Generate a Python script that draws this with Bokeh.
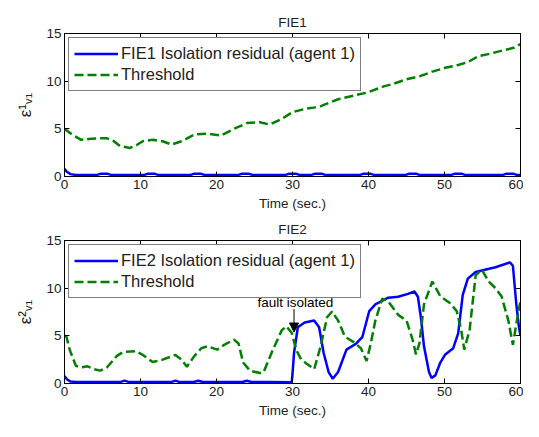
from bokeh.plotting import figure
from bokeh.layouts import column
from bokeh.models import LinearAxis, FixedTicker, Range1d, Label, Arrow, NormalHead
from bokeh.embed import file_html
from bokeh.resources import INLINE

FONT = "Liberation Sans"
TXT = "#222222"

x_ticks = [0, 10, 20, 30, 40, 50, 60]
y_ticks = [0, 5, 10, 15]

# ---- FIE1 ----
th1_t = [0, 1, 2.2, 3.5, 4.7, 5.6, 6.5, 7.3, 8.6, 9.5, 10.3, 11.6, 12.9, 14.1, 15.4, 17.1, 18.8,
         20.6, 22.3, 24, 25.7, 27, 28.5, 30, 31.7, 33, 33.8, 36, 38.1, 39.8, 42, 43.2, 45, 46.7,
         48.4, 50.1, 51.8, 53.1, 54.4, 56.1, 57.8, 59.1, 60]
th1_y = [5.0, 4.4, 3.85, 3.95, 4.0, 4.0, 3.7, 3.2, 3.0, 3.3, 3.7, 3.85, 3.7, 3.35, 3.7, 4.4, 4.5,
         4.3, 5.0, 5.6, 5.7, 5.45, 6.0, 6.75, 7.1, 7.25, 7.4, 8.1, 8.5, 8.8, 9.45, 9.7, 10.2, 10.5,
         11.0, 11.4, 11.7, 12.0, 12.6, 12.9, 13.25, 13.5, 13.9]

res1_t = [0, 0.3, 0.8, 1.5, 4.2, 4.7, 5.7, 6.2, 10.4, 10.9, 11.9, 12.4, 16.5, 17.0, 18.0, 18.5,
          22.8, 23.3, 24.3, 24.8, 29.0, 29.5, 30.5, 31.0, 32.4, 32.9, 33.9, 34.4, 38.8, 39.3,
          40.3, 40.8, 44.8, 45.3, 46.3, 46.8, 50.8, 51.3, 52.3, 52.8, 57.6, 58.1, 59.1, 59.6, 60]
res1_y = [0.8, 0.5, 0.25, 0.15, 0.15, 0.28, 0.28, 0.15, 0.15, 0.28, 0.28, 0.15, 0.15, 0.28, 0.28, 0.15,
          0.15, 0.28, 0.28, 0.15, 0.15, 0.28, 0.28, 0.15, 0.15, 0.28, 0.28, 0.15, 0.15, 0.28,
          0.28, 0.15, 0.15, 0.28, 0.28, 0.15, 0.15, 0.28, 0.28, 0.15, 0.15, 0.28, 0.28, 0.15, 0.15]

# ---- FIE2 ----
th2_t = [0, 0.26, 0.7, 1.5, 2.2, 3.0, 3.9, 4.7, 5.6, 6.9, 7.7, 9.4, 10.3, 11.6, 12.9, 14.6, 15.4,
         16.1, 17.1, 18.0, 18.8, 20.1, 21.0, 22.3, 22.9, 23.5, 24.4, 25.7, 26.2, 27.4, 28.6, 29.2,
         29.9, 30.5, 31.15, 32.0, 32.85, 33.7, 34.55, 35.2, 36.0, 36.9, 37.95, 39.0, 39.75, 40.3,
         40.9, 41.8, 42.6, 43.9, 45.0, 45.8, 46.25, 46.7, 47.3, 48.4, 49.45, 50.7, 51.6, 52.2,
         52.6, 53.3, 54.1, 54.9, 55.8, 56.7, 57.5, 58.4, 59.0, 59.45, 59.9, 60]
th2_y = [5.0, 4.9, 3.5, 1.85, 1.7, 1.8, 1.5, 1.35, 1.7, 2.9, 3.3, 3.4, 3.0, 2.25, 2.5, 3.0, 2.5,
         1.75, 2.9, 3.7, 3.9, 3.55, 4.05, 4.6, 4.2, 2.2, 1.35, 1.1, 1.2, 3.5, 5.6, 6.0,
         5.3, 3.5, 2.5, 2.0, 1.5, 3.9, 6.95, 7.55, 6.6, 4.9, 4.4, 3.7, 2.37, 4.2,
         6.6, 8.9, 8.6, 7.2, 6.6, 4.6, 3.05, 4.2, 8.3, 10.7, 9.15, 8.45, 7.6, 5.6,
         3.55, 5.6, 11.35, 11.95, 10.7, 10.0, 9.15, 6.6, 4.05, 6.25, 8.3, 8.5]

res2_t = [0, 0.3, 0.8, 1.5, 7.3, 7.9, 8.5, 14.0, 14.6, 15.2, 17.0, 17.6, 18.2, 23.4, 24.0, 24.6,
          27, 29.9, 30.0, 30.2, 30.7, 31.6, 32.85, 33.5, 34.1, 34.75, 35.3, 36.0, 37.1, 38.4,
          39.2, 40.1, 40.9, 42.6, 43.9, 45.2, 46.05, 46.5, 46.9, 47.3, 47.96, 48.3, 48.8, 49.45,
          50.1, 51.15, 51.8, 52.4, 53.07, 54.1, 56.7, 58.6, 59.0, 59.45, 59.8, 60]
res2_y = [0.8, 0.45, 0.2, 0.15, 0.15, 0.3, 0.15, 0.15, 0.3, 0.15, 0.15, 0.28, 0.15, 0.15, 0.28, 0.15,
          0.15, 0.12, 1.0, 3.2, 5.9, 6.4, 6.6, 5.9, 3.2, 1.2, 0.5, 1.2, 3.55, 4.2,
          4.9, 7.6, 8.3, 9.0, 9.1, 9.4, 9.65, 9.1, 6.9, 3.9, 1.2, 0.57, 0.85, 2.2,
          3.05, 3.7, 5.25, 9.3, 11.0, 11.7, 12.2, 12.7, 12.35, 8.3, 5.9, 5.0]

fault_x = 30.2
fault_text = "fault isolated"


def style_axis(ax, ticks, show_labels=True):
    ax.ticker = FixedTicker(ticks=ticks)
    ax.major_tick_in = 5
    ax.major_tick_out = 0
    ax.minor_tick_in = 0
    ax.minor_tick_out = 0
    ax.axis_line_color = "black"
    ax.major_tick_line_color = "black"
    ax.major_label_text_font = FONT
    ax.major_label_text_color = TXT
    ax.major_label_text_font_size = "13.5px"
    ax.major_label_standoff = 3
    ax.axis_label_text_font = FONT
    ax.axis_label_text_font_style = "normal"
    ax.axis_label_text_color = TXT
    ax.axis_label_text_font_size = "13.5px"
    ax.axis_label_standoff = 4
    if not show_labels:
        ax.major_label_overrides = {t: "" for t in ticks}
        ax.major_label_text_color = None
        ax.major_label_standoff = 0


def make_fig(title, top, bottom, ylabel, res_t, res_y, th_t, th_y, res_name):
    p = figure(frame_width=456, frame_height=143, output_backend="svg", toolbar_location=None,
               x_range=Range1d(0, 60), y_range=Range1d(0, 15),
               min_border_left=64, min_border_right=3, min_border_top=top,
               min_border_bottom=bottom, title=title)
    p.title.align = "center"
    p.title.text_font = FONT
    p.title.text_font_style = "normal"
    p.title.text_font_size = "13.5px"
    p.title.text_color = TXT
    p.title.standoff = 8
    p.grid.visible = False
    p.outline_line_color = "black"
    p.background_fill_color = "white"

    style_axis(p.xaxis[0], x_ticks)
    style_axis(p.yaxis[0], y_ticks)
    p.xaxis.axis_label = "Time (sec.)"
    p.yaxis.axis_label = ylabel
    p.yaxis.axis_label_text_font_size = "17px"
    p.yaxis.axis_label_standoff = 8

    ax_top = LinearAxis()
    ax_right = LinearAxis()
    style_axis(ax_top, x_ticks, show_labels=False)
    style_axis(ax_right, y_ticks, show_labels=False)
    p.add_layout(ax_top, "above")
    p.add_layout(ax_right, "right")

    p.line(res_t, res_y, line_color="#0000ff", line_width=2.5, legend_label=res_name)
    p.line(th_t, th_y, line_color="#008000", line_width=2.5, line_dash="9 4",
           legend_label="Threshold")

    lg = p.legend[0]
    lg.location = "top_left"
    lg.border_line_color = "black"
    lg.border_line_width = 1
    lg.background_fill_alpha = 1.0
    lg.label_text_font = FONT
    lg.label_text_font_size = "16.5px"
    lg.label_text_color = TXT
    lg.glyph_width = 44
    lg.glyph_height = 21
    lg.label_height = 21
    lg.label_standoff = 3
    lg.spacing = 0
    lg.padding = 5
    lg.margin = 4
    return p


p1 = make_fig("FIE1", 33, 39, "ε¹ᵥ₁", res1_t, res1_y, th1_t, th1_y,
              "FIE1 Isolation residual (agent 1)")
p2 = make_fig("FIE2", 24, 39, "ε²ᵥ₁", res2_t, res2_y, th2_t, th2_y,
              "FIE2 Isolation residual (agent 1)")

p2.add_layout(Label(x=25.4, y=8.45, text=fault_text, text_font=FONT, text_font_size="13.5px",
                    text_color="black", text_baseline="middle"))
p2.add_layout(Arrow(x_start=fault_x, y_start=7.8, x_end=fault_x, y_end=5.4,
                    line_color="black", line_width=1,
                    end=NormalHead(size=9, fill_color="black", line_color="black")))

layout = column(p1, p2, spacing=0)
open("out.html", "w").write(file_html(layout, INLINE))
